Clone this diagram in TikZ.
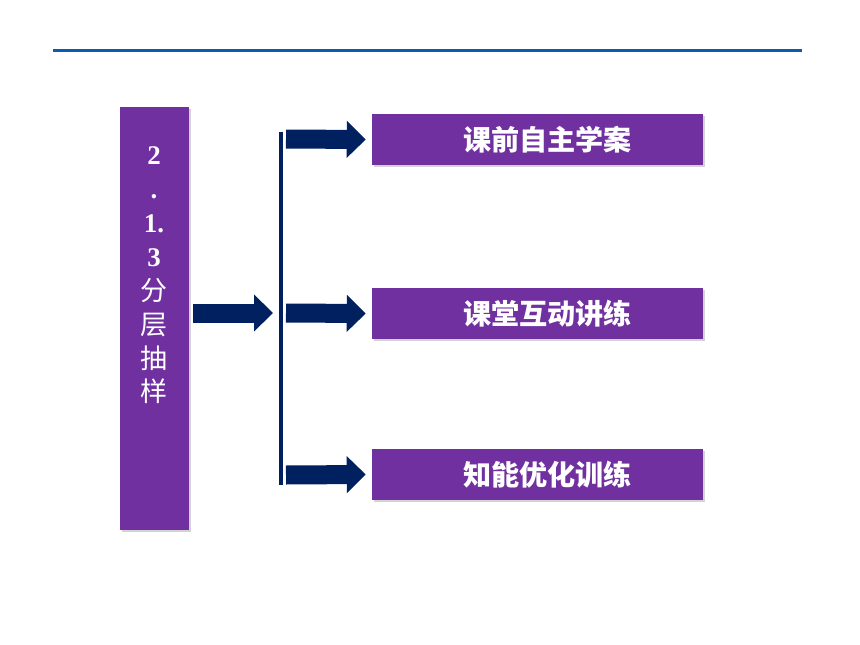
\documentclass[tikz,border=0pt]{standalone}
\usepackage{fontspec}
\setmainfont{Liberation Serif}
\newfontfamily\cjk{Noto Sans CJK SC}
\usetikzlibrary{positioning, shapes, arrows.meta, shadows}

\definecolor{boxpurple}{HTML}{7030A0}
\definecolor{arrownavy}{HTML}{002060}
\definecolor{ruleblue}{HTML}{0B5BB4}

\tikzset{
  purplebox/.style={rectangle, fill=boxpurple, inner sep=0pt, text=white,
    drop shadow={opacity=0.35, shadow xshift=2pt, shadow yshift=-2pt}},
  fatarrow/.style={draw=arrownavy, line width=0.57cm,
    -{Triangle[length=0.57cm, width=1.08cm]}},
}

\begin{document}
\begin{tikzpicture}[x=0.03cm, y=-0.03cm]
    \useasboundingbox (0,0) rectangle (860,645);
    % top rule
    \draw[ruleblue, line width=0.09cm] (53,50) -- (802,50);
    % left box
    \node[purplebox, minimum width=2.07cm, minimum height=12.69cm] (topic) at (154.5,318.5) {};
    \node[text=white, anchor=north, align=center, font=\fontsize{23}{28.9}\selectfont] (topictext) at (154,143)
        {\bfseries 2\\\bfseries .\\\bfseries 1.\\\bfseries 3\\\cjk 分\\\cjk 层\\\cjk 抽\\\cjk 样};
    % right boxes
    \node[purplebox, minimum width=9.93cm, minimum height=1.53cm, font=\cjk\bfseries\fontsize{24}{28}\selectfont] (pre) at (537.5,139.5) {\hspace{0.6cm}课前自主学案};
    \node[purplebox, minimum width=9.93cm, minimum height=1.53cm, font=\cjk\bfseries\fontsize{24}{28}\selectfont] (class) at (537.5,313.5) {\hspace{0.6cm}课堂互动讲练};
    \node[purplebox, minimum width=9.93cm, minimum height=1.53cm, font=\cjk\bfseries\fontsize{24}{28}\selectfont] (drill) at (537.5,474.5) {\hspace{0.6cm}知能优化训练};
    % bracket
    \coordinate (bartop) at (281,132);
    \coordinate (barbot) at (281,485);
    \draw[arrownavy, line width=0.12cm] (bartop) -- (barbot);
    % arrows
    \draw[fatarrow] (193,313) -- (273,313);
    \draw[fatarrow] (286,139) -- ([xshift=-0.18cm]pre.west);
    \draw[fatarrow] (286,313) -- ([xshift=-0.18cm]class.west);
    \draw[fatarrow] (286,475) -- ([xshift=-0.18cm]drill.west);
\end{tikzpicture}
\end{document}
